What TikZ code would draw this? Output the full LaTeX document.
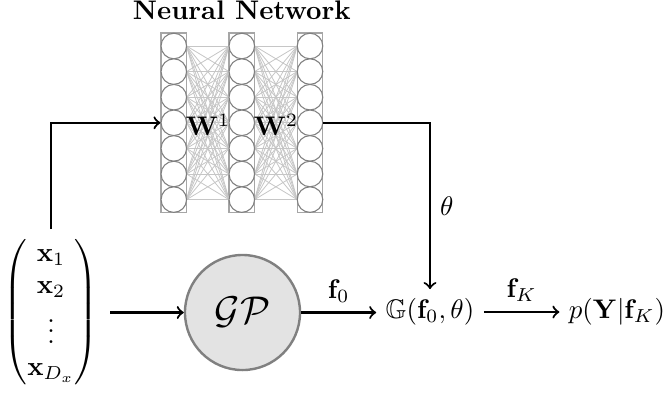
\documentclass[tikz,border=0pt]{standalone}
\usepackage{amsmath,amssymb}
\begin{document}
\begin{tikzpicture}[x=0.372pt,y=-0.372pt,
  neuron/.style={circle,draw=gray,fill=white,minimum size=9.5pt,inner sep=0pt,line width=0.4pt},
  layerbox/.style={rectangle,draw=gray!70,line width=0.5pt,minimum width=9.5pt,minimum height=66.7pt,inner sep=0pt},
  conn/.style={draw=gray!45,line width=0.3pt},
  flow/.style={thick,->},
  gpnode/.style={circle,draw=gray,fill=gray!22,line width=0.9pt,minimum size=42.8pt,inner sep=0pt}]
\useasboundingbox (0,0) rectangle (665,392);
% layer boxes
\foreach \c/\x in {1/173.8,2/241.8,3/310}{
  \node[layerbox] (box\c) at (\x,122.8) {};
}
% connections
\foreach \c/\x in {1/173.8,2/241.8,3/310}{
  \foreach \k in {1,...,7}{
    \coordinate (p\c-\k) at (\x,{46+25.6*(\k-1)});
  }
}
\foreach \i in {1,...,7}{
  \foreach \j in {1,...,7}{
    \draw[conn] ([xshift=4.75pt]p1-\i) -- ([xshift=-4.75pt]p2-\j);
    \draw[conn] ([xshift=4.75pt]p2-\i) -- ([xshift=-4.75pt]p3-\j);
  }
}
% neurons
\foreach \c in {1,2,3}{
  \foreach \k in {1,...,7}{
    \node[neuron] (n\c-\k) at (p\c-\k) {};
  }
}
\node (title) at (241.8,10) {\textbf{Neural Network}};
\node (w1) at (208,125) {$\mathbf{W}^1$};
\node (w2) at (276,125) {$\mathbf{W}^2$};
% input vector
\node (vec) at (51,312) {$\begin{pmatrix}\mathbf{x}_1\\ \mathbf{x}_2\\ \vdots\\ \mathbf{x}_{D_x}\end{pmatrix}$};
\node[gpnode] (gp) at (242.5,312.5) {\Large$\mathcal{GP}$};
\node (G) at (430,312) {$\mathbb{G}(\mathbf{f}_0,\theta)$};
\node (p) at (617,312) {$p(\mathbf{Y}|\mathbf{f}_K)$};
\coordinate (vin) at (110,312.5);
% arrows
\draw[flow] (vec.north) |- (n1-4.west);
\draw[flow] (vin) -- (gp.west);
\draw[flow] (gp.east) -- (G.west |- gp.east) node[midway,above] {$\mathbf{f}_0$};
\draw[flow] (G.east) -- (p.west) node[midway,above] {$\mathbf{f}_K$};
\draw[flow] (n3-4.east) -| (G.north) node[pos=0.75,right] {$\theta$};
\end{tikzpicture}
\end{document}
